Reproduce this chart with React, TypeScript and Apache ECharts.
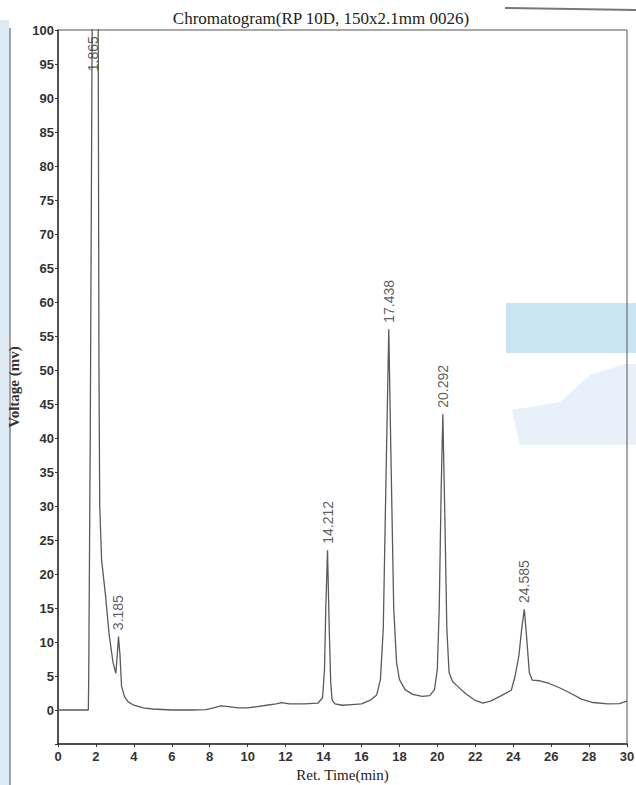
import React, { useEffect, useRef } from "react";
import * as echarts from "echarts";

const titleText = "Chromatogram(RP 10D, 150x2.1mm 0026)";
const xAxisName = "Ret. Time(min)";
const yAxisName = "Voltage (mv)";

// retention time (min) and signal (mV) of the trace
const traceTime = [
  0, 1.0, 1.6, 1.62, 1.7, 1.8, 1.85, 2.05, 2.12, 2.16, 2.2, 2.3, 2.5, 2.7, 2.9, 3.05, 3.12, 3.19, 3.27,
  3.35, 3.5, 3.7, 4.0, 4.5, 5.0, 6.0, 7.0, 7.8, 8.2, 8.6, 9.0, 9.5, 10.0, 10.5, 11.0, 11.5, 11.8, 12.2,
  13.0, 13.7, 13.95, 14.05, 14.12, 14.21, 14.3, 14.38, 14.45, 14.6, 15.0, 15.5, 16.0, 16.5, 16.8, 17.0,
  17.15, 17.3, 17.44, 17.55, 17.7, 17.85, 18.0, 18.3, 18.7, 19.2, 19.6, 19.85, 20.0, 20.1, 20.2, 20.29,
  20.4, 20.5, 20.62, 20.8, 21.1, 21.5, 22.0, 22.4, 22.8, 23.3, 23.9, 24.1, 24.3, 24.45, 24.585, 24.7,
  24.85, 25.0, 25.4, 25.9, 26.5, 27.0, 27.6, 28.2, 29.0, 29.6, 30.0,
];
const traceSignal = [
  0, 0, 0, 5, 40, 100, 130, 130, 100, 50, 30, 22, 17, 11, 7, 5.4, 8, 10.8, 8,
  3.5, 2.0, 1.2, 0.7, 0.3, 0.15, 0, 0, 0.05, 0.3, 0.6, 0.5, 0.3, 0.3, 0.5, 0.7, 0.9, 1.1, 0.9,
  0.9, 1.0, 1.8, 6, 15, 23.5, 12, 4, 1.5, 0.9, 0.7, 0.8, 0.9, 1.5, 2.2, 4.5,
  12, 35, 56, 38, 15, 7, 4.5, 3.0, 2.3, 2.0, 2.1, 3, 6, 15, 32, 43.5,
  28, 12, 5.5, 4.2, 3.4, 2.4, 1.4, 1.0, 1.3, 2.0, 2.9, 5, 8, 12, 14.8, 11,
  5.5, 4.4, 4.3, 3.9, 3.2, 2.5, 1.6, 1.1, 0.9, 0.95, 1.3,
];

// peak labels: retention time and label anchor height
const peakNames = ["1.865", "3.185", "14.212", "17.438", "20.292", "24.585"];
const peakTimes = [1.865, 3.185, 14.212, 17.438, 20.292, 24.585];
const peakAnchors = [93.5, 11.3, 24, 56.5, 44, 15.3];

const xTicks = [0, 30, 2];
const yTicks = [-5, 100, 5];

export default function App() {
  const ref = useRef<HTMLDivElement>(null);
  useEffect(() => {
    document.body.style.margin = "0";
    const chart = echarts.init(ref.current!, null, { renderer: "svg" });
    const trace = traceTime.map((t, i) => [t, traceSignal[i]]);
    const peaks = peakTimes.map((t, i) => ({ value: [t, peakAnchors[i]], name: peakNames[i] }));
    chart.setOption({
      animation: false,
      backgroundColor: "#ffffff",
      title: {
        text: titleText,
        left: 316,
        textAlign: "center",
        top: 5,
        textStyle: { fontFamily: "Liberation Serif", fontSize: 17, fontWeight: "normal", color: "#222" },
      },
      graphic: [
        { type: "rect", shape: { x: 0, y: 20, width: 9, height: 765 }, style: { fill: "#dde9f3" }, silent: true, z: -10 },
        { type: "line", shape: { x1: 10, y1: 28, x2: 10, y2: 785 }, style: { stroke: "#666", lineWidth: 1.2 }, silent: true, z: -9 },
        { type: "rect", shape: { x: 506, y: 303, width: 130, height: 50 }, style: { fill: "#bfe0f1", opacity: 0.85 }, silent: true, z: -10 },
        {
          type: "polygon",
          shape: { points: [[512, 410], [560, 402], [590, 375], [625, 364], [636, 364], [636, 445], [520, 445]] },
          style: { fill: "#e2ecf7", opacity: 0.8 },
          silent: true,
          z: -10,
        },
        { type: "line", shape: { x1: 505, y1: 8, x2: 636, y2: 10 }, style: { stroke: "#777", lineWidth: 2 }, silent: true, z: -9 },
      ],
      grid: {
        left: 58,
        right: 9,
        top: 30,
        bottom: 41,
        outerBoundsMode: "none",
        show: true,
        borderColor: "#555",
        borderWidth: 1,
        backgroundColor: "transparent",
      },
      xAxis: {
        type: "value",
        min: xTicks[0],
        max: xTicks[1],
        interval: xTicks[2],
        name: xAxisName,
        nameLocation: "middle",
        nameGap: 21,
        nameTextStyle: { fontFamily: "Liberation Serif", fontSize: 15, color: "#222" },
        axisLine: { show: true, onZero: false, lineStyle: { color: "#333", width: 1.5 } },
        axisTick: { show: true, length: 3, lineStyle: { color: "#333" } },
        axisLabel: { fontFamily: "Liberation Sans", fontSize: 13, fontWeight: "bold", color: "#333", margin: 6 },
        splitLine: { show: false },
      },
      yAxis: {
        type: "value",
        min: yTicks[0],
        max: yTicks[1],
        interval: yTicks[2],
        name: yAxisName,
        nameLocation: "middle",
        nameGap: 33,
        nameTextStyle: { fontFamily: "Liberation Serif", fontSize: 15, fontWeight: "bold", color: "#333" },
        axisLine: { show: true, onZero: false, lineStyle: { color: "#333", width: 1.5 } },
        axisTick: { show: true, length: 3, lineStyle: { color: "#333" } },
        axisLabel: {
          fontFamily: "Liberation Sans",
          fontSize: 13,
          fontWeight: "bold",
          color: "#333",
          margin: 4,
          formatter: (v: number) => (v < 0 ? "" : String(v)),
        },
        splitLine: { show: false },
      },
      series: [
        {
          type: "line",
          data: trace,
          showSymbol: false,
          symbol: "none",
          clip: true,
          lineStyle: { color: "#5a5a5a", width: 1.3 },
          z: 2,
        },
        {
          type: "scatter",
          data: peaks,
          symbolSize: 0,
          label: {
            show: true,
            formatter: (p: any) => p.name,
            position: "top",
            rotate: 90,
            align: "left",
            verticalAlign: "middle",
            distance: 3,
            fontFamily: "Liberation Sans",
            fontSize: 14,
            color: "#333",
          },
          z: 3,
        },
      ],
    });
    return () => chart.dispose();
  }, []);
  return <div ref={ref} style={{ width: 636, height: 785 }} />;
}
